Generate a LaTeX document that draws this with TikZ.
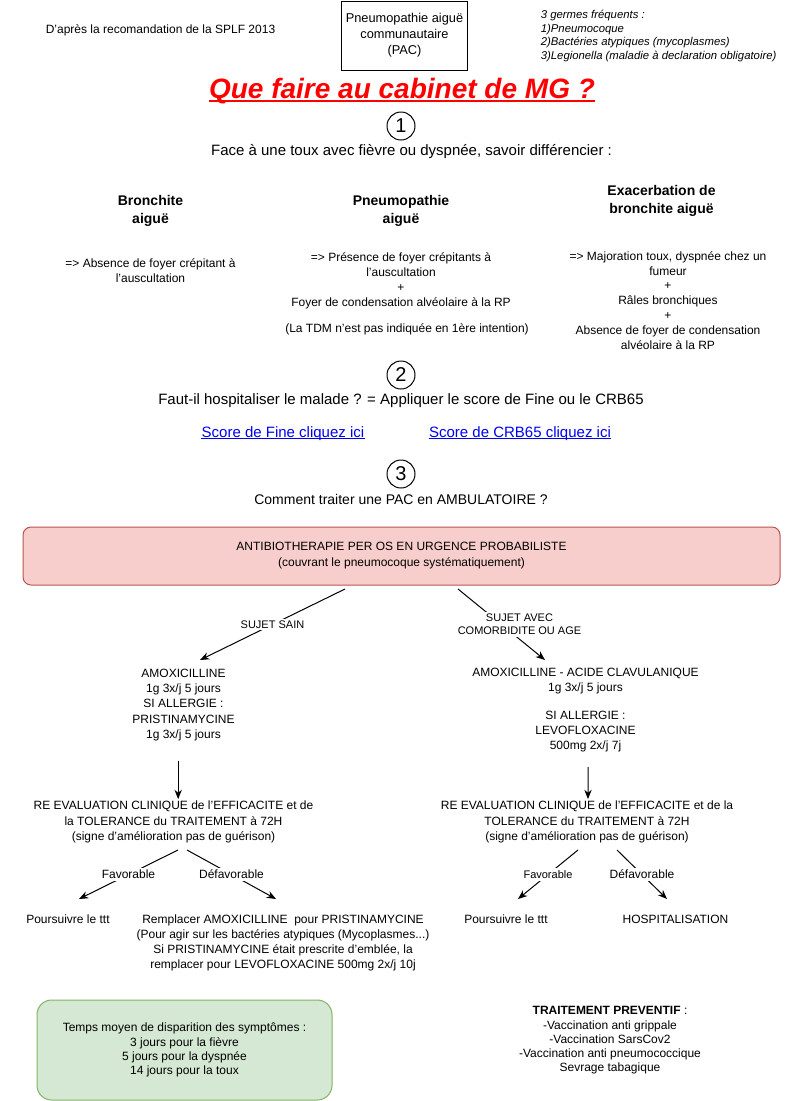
\documentclass[tikz,border=0pt]{standalone}
\usepackage{fontspec}
\setmainfont{Liberation Sans}
\usetikzlibrary{arrows.meta, positioning}
\definecolor{titlered}{HTML}{FF0000}
\definecolor{linkblue}{HTML}{0000EE}
\definecolor{pinkfill}{HTML}{F8CECC}
\definecolor{pinkline}{HTML}{B85450}
\definecolor{greenfill}{HTML}{D5E8D4}
\definecolor{greenline}{HTML}{82B366}
\tikzset{
>={Stealth[length=7pt,width=5.5pt]}, % filled arrow heads
every node/.style={align=center, inner sep=1pt},
txt/.style={font=\fontsize{9}{11.2}\selectfont},
big/.style={font=\fontsize{11.25}{13.5}\selectfont},
mid/.style={font=\fontsize{10.5}{13}\selectfont},
small/.style={font=\fontsize{9}{10.7}\selectfont},
tiny/.style={font=\fontsize{8.25}{10}\selectfont},
head/.style={font=\bfseries\fontsize{10.5}{13}\selectfont},
num/.style={draw, circle, minimum size=21pt, inner sep=0pt, font=\fontsize{15}{15}\selectfont},
lbl/.style={fill=white, inner sep=1.5pt},
arr/.style={->, line width=0.75pt},
link/.style={big, text=linkblue, anchor=base, inner sep=0pt},
}

\begin{document}
\begin{tikzpicture}[x=0.75pt, y=-0.75pt, line width=0.75pt]
\useasboundingbox (0,0) rectangle (794,1101);
% header
\node[txt] (src) at (160.5,30) {D'après la recomandation de la SPLF 2013};
\node[draw, minimum width=94.5pt, minimum height=51.75pt, font=\fontsize{9.6}{12}\selectfont] (pac) at (404.5,35.5) {Pneumopathie aiguë\\communautaire\\(PAC)};
\node[anchor=west, align=left, font=\itshape\fontsize{8.5}{10.3}\selectfont] (germs) at (539,36) {3 germes fréquents :\\1)Pneumocoque\\2)Bactéries atypiques (mycoplasmes)\\3)Legionella (maladie à declaration obligatoire)};
\node[anchor=base, inner sep=0pt, text=titlered, font=\bfseries\itshape\fontsize{21}{25}\selectfont] (title) at (402,98) {Que faire au cabinet de MG ?};
\draw[titlered, line width=1.3pt] ([yshift=-2.2pt]title.base west) -- ([yshift=-2.2pt]title.base east);

% step 1
\node[num] (n1) at (401,126) {1};
\node[big] (q1) at (411.5,152) {Face à une toux avec fièvre ou dyspnée, savoir différencier :};
\node[head] (bron) at (150.5,211) {Bronchite\\aiguë};
\node[head] (pneu) at (401,211) {Pneumopathie\\aiguë};
\node[head] (exac) at (661.5,201) {Exacerbation de\\bronchite aiguë};
\node[txt] (bronT) at (150.5,271) {=> Absence de foyer crépitant à\\l'auscultation};
\node[txt] (pneuT) at (401,281) {=> Présence de foyer crépitants à\\l'auscultation\\+\\Foyer de condensation alvéolaire à la RP};
\node[txt] (tdm) at (407,329) {(La TDM n'est pas indiquée en 1ère intention)};
\node[txt] (exacT) at (668,300.5) {=> Majoration toux, dyspnée chez un\\fumeur\\+\\Râles bronchiques\\+\\Absence de foyer de condensation\\alvéolaire à la RP};

% step 2
\node[num] (n2) at (401,375) {2};
\node[big] (q2) at (401,401) {Faut-il hospitaliser le malade ? = Appliquer le score de Fine ou le CRB65};
\node[link] (fine) at (283,437) {Score de Fine cliquez ici};
\node[link] (crb) at (520,437) {Score de CRB65 cliquez ici};
\draw[linkblue, line width=0.6pt] ([yshift=-1.4pt]fine.base west) -- ([yshift=-1.4pt]fine.base east);
\draw[linkblue, line width=0.6pt] ([yshift=-1.4pt]crb.base west) -- ([yshift=-1.4pt]crb.base east);

% step 3
\node[num] (n3) at (401,474) {3};
\node[mid] (q3) at (401,499) {Comment traiter une PAC en AMBULATOIRE ?};
\node[draw=pinkline, fill=pinkfill, rounded corners=6pt, minimum width=567.75pt, minimum height=43.5pt, font=\fontsize{9}{12}\selectfont] (atb) at (401.5,556) {ANTIBIOTHERAPIE PER OS EN URGENCE PROBABILISTE\\(couvrant le pneumocoque systématiquement)};

\coordinate (sainA) at (345,589);
\coordinate (sainB) at (200,660);
\coordinate (comoA) at (458,589);
\coordinate (comoB) at (545,660);
\draw[arr] (sainA) -- node[lbl, tiny]{SUJET SAIN} (sainB);
\draw[arr] (comoA) -- node[lbl, tiny, xshift=13.5pt]{SUJET AVEC\\COMORBIDITE OU AGE} (comoB);

% left branch
\node[txt, font=\fontsize{9}{11.6}\selectfont] (lx) at (183.5,705) {AMOXICILLINE\\1g 3x/j 5 jours\\SI ALLERGIE :\\PRISTINAMYCINE\\1g 3x/j 5 jours};
\node[txt, font=\fontsize{9}{11.6}\selectfont] (lre) at (173.5,822) {RE EVALUATION CLINIQUE de l'EFFICACITE et de\\la TOLERANCE du TRAITEMENT à 72H\\(signe d'amélioration pas de guérison)};
\draw[arr] ([xshift=-4pt,yshift=-13pt]lx.south) -- ([xshift=3.5pt]lre.north);
\node[txt] (lok) at (68,919.5) {Poursuivre le ttt};
\node[txt] (lko) at (283,942.5) {Remplacer AMOXICILLINE \ pour PRISTINAMYCINE\\(Pour agir sur les bactéries atypiques (Mycoplasmes...)\\Si PRISTINAMYCINE était prescrite d'emblée, la\\remplacer pour LEVOFLOXACINE 500mg 2x/j 10j};
\coordinate (lfavA) at (178,850);
\coordinate (lfavB) at (79,899);
\coordinate (ldefA) at (187,850);
\coordinate (ldefB) at (276,899);
\draw[arr] (lfavA) -- node[lbl, txt]{Favorable} (lfavB);
\draw[arr] (ldefA) -- node[lbl, txt]{Défavorable} (ldefB);

% right branch
\node[txt] (rx) at (585.5,681) {AMOXICILLINE - ACIDE CLAVULANIQUE\\1g 3x/j 5 jours};
\node[txt] (ry) at (585.5,731.5) {SI ALLERGIE :\\LEVOFLOXACINE\\500mg 2x/j 7j};
\node[txt, font=\fontsize{9}{11.6}\selectfont] (rre) at (587,822) {RE EVALUATION CLINIQUE de l'EFFICACITE et de la\\TOLERANCE du TRAITEMENT à 72H\\(signe d'amélioration pas de guérison)};
\draw[arr] ([xshift=1.9pt,yshift=-10pt]ry.south) -- ([xshift=0.75pt]rre.north);
\node[txt] (rok) at (506,919.5) {Poursuivre le ttt};
\node[txt] (hosp) at (675.5,919.5) {HOSPITALISATION};
\coordinate (rfavA) at (578,850);
\coordinate (rfavB) at (518,899);
\coordinate (rdefA) at (617,850);
\coordinate (rdefB) at (667,899);
\draw[arr] (rfavA) -- node[lbl, tiny]{Favorable} (rfavB);
\draw[arr] (rdefA) -- node[lbl, txt]{Défavorable} (rdefB);

% bottom
\node[draw=greenline, fill=greenfill, rounded corners=11pt, minimum width=221.25pt, minimum height=75pt, small] (temps) at (184.5,1050) {Temps moyen de disparition des symptômes :\\3 jours pour la fièvre\\5 jours pour la dyspnée\\14 jours pour la toux};
\node[small] (prev) at (610,1040.5) {\textbf{TRAITEMENT PREVENTIF} :\\-Vaccination anti grippale\\-Vaccination SarsCov2\\-Vaccination anti pneumococcique\\Sevrage tabagique};
\end{tikzpicture}
\end{document}
